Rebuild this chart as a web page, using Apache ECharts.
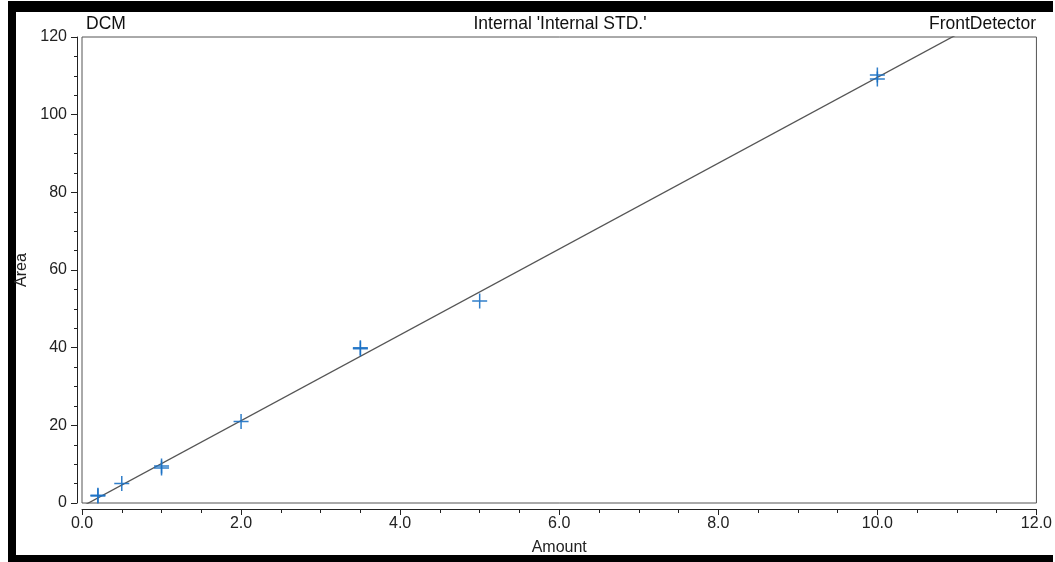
<!DOCTYPE html>
<html>
<head>
<meta charset="utf-8">
<title>DCM calibration</title>
<script src="https://cdn.jsdelivr.net/npm/echarts@6/dist/echarts.min.js"></script>
<style>
  html, body { margin: 0; padding: 0; background: #fff; }
  #chart { width: 1055px; height: 562px; }
</style>
</head>
<body>
<div id="chart"></div>
<script>
// calibration points (Amount, Area) – replicates overlap at some levels
var amounts = [0.2, 0.2, 0.5, 1.0, 1.0, 2.0, 3.5, 3.5, 5.0, 10.0, 10.0];
var areas   = [2.0, 1.8, 5.0, 9.0, 9.5, 21.0, 39.7, 40.0, 52.0, 110.2, 109.2];

// fitted line (ends at x = 0 and x = 12)
var fitAmounts = [0, 12];
var fitAreas   = [-0.9, 131.7];

var titleLeft   = 'DCM';
var titleCenter = "Internal 'Internal STD.'";
var titleRight  = 'FrontDetector';

var FONT = 'Arial, "Liberation Sans", sans-serif';
var PLUS = 'path://M4.5,0h1v4.5h4.5v1h-4.5v4.5h-1v-4.5h-4.5v-1h4.5z';

var points = amounts.map(function (a, i) { return [a, areas[i]]; });
var fitLine = fitAmounts.map(function (a, i) { return [a, fitAreas[i]]; });

var chart = echarts.init(document.getElementById('chart'));

var titleStyle = { fontFamily: FONT, fontSize: 17.5, fontWeight: 'normal', color: '#111' };

var option = {
    backgroundColor: '#ffffff',
    animation: false,
    title: [
        { text: titleLeft, left: 86, top: 15, padding: 0, textStyle: titleStyle },
        { text: titleCenter, left: 560, textAlign: 'center', top: 15, padding: 0, textStyle: titleStyle },
        { text: titleRight, right: 19, top: 15, padding: 0, textStyle: titleStyle }
    ],
    grid: {
        left: 82, top: 37, right: 16, bottom: 59,
        show: true, borderColor: '#555', borderWidth: 1, backgroundColor: '#fff'
    },
    xAxis: {
        type: 'value', min: 0, max: 12, interval: 2,
        offset: 6,
        name: 'Amount', nameLocation: 'middle', nameGap: 31,
        nameTextStyle: { fontFamily: FONT, fontSize: 16, color: '#222' },
        axisLine: { show: true, onZero: false, lineStyle: { color: '#222', width: 1 } },
        axisTick: { show: true, inside: false, length: 6, lineStyle: { color: '#222' } },
        minorTick: { show: true, splitNumber: 4, length: 4, lineStyle: { color: '#222' } },
        axisLabel: { margin: 7, fontFamily: FONT, fontSize: 16, color: '#222',
                     formatter: function (v) { return v.toFixed(1); } },
        splitLine: { show: false }
    },
    yAxis: {
        type: 'value', min: 0, max: 120, interval: 20,
        offset: 5,
        name: 'Area', nameLocation: 'middle', nameGap: 46,
        nameTextStyle: { fontFamily: FONT, fontSize: 16, color: '#222' },
        axisLine: { show: true, onZero: false, lineStyle: { color: '#222', width: 1 } },
        axisTick: { show: true, inside: false, length: 6, lineStyle: { color: '#222' } },
        minorTick: { show: true, splitNumber: 4, length: 3, lineStyle: { color: '#222' } },
        axisLabel: { margin: 10, fontFamily: FONT, fontSize: 16, color: '#222' },
        splitLine: { show: false }
    },
    series: [
        {   // 拟合直线
            type: 'line',
            data: fitLine,
            symbol: 'none',
            silent: true,
            clip: true,
            lineStyle: { color: '#555', width: 1.3 },
            z: 2
        },
        {   // 标定点
            type: 'scatter',
            data: points,
            symbol: PLUS,
            symbolSize: 15,
            itemStyle: { color: '#1a70c4', opacity: 0.9 },
            z: 3
        }
    ],
    graphic: [
        { type: 'rect', shape: { x: 8, y: 1, width: 1045, height: 11 }, style: { fill: '#000' } },
        { type: 'rect', shape: { x: 8, y: 1, width: 8, height: 561 }, style: { fill: '#000' } },
        { type: 'rect', shape: { x: 8, y: 555, width: 1045, height: 7 }, style: { fill: '#000' } }
    ]
};

chart.setOption(option);
</script>
</body>
</html>
